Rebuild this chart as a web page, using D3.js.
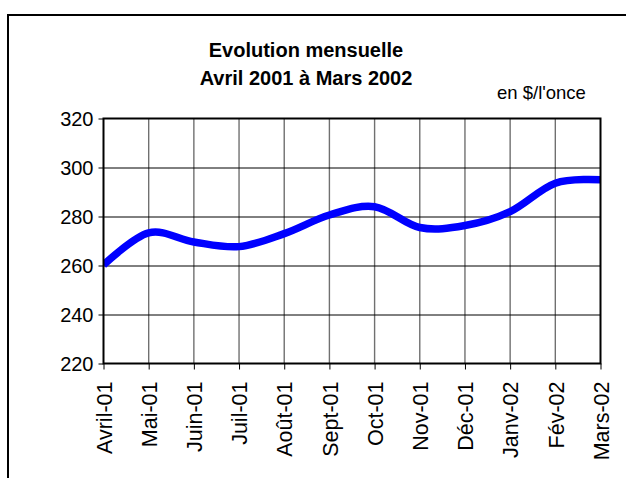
<!DOCTYPE html>
<html>
<head>
<meta charset="utf-8">
<script src="https://cdn.jsdelivr.net/npm/d3@7"></script>
<style>
  body { margin: 0; background: #fff; }
  text { font-family: "Liberation Sans", Arial, sans-serif; fill: #000; }
</style>
</head>
<body>
<script>
// Gold price chart - monthly evolution

// Data
var months = ["Avril-01", "Mai-01", "Juin-01", "Juil-01", "Août-01", "Sept-01",
  "Oct-01", "Nov-01", "Déc-01", "Janv-02", "Fév-02", "Mars-02"];
var prices = [260.2, 273.3, 269.6, 267.7, 273.0, 280.6, 284.0, 275.5, 276.3, 282.0, 293.6, 295.0];
var yTicks = [220, 240, 260, 280, 300, 320];

var titleLines = ["Evolution mensuelle", "Avril 2001 à Mars 2002"];
var unitLabel = "en $/l'once";

// SVG area
var svgWidth = 626;
var svgHeight = 478;

var margin = {
  top: 118.5,
  right: 25.5,
  bottom: 114.5,
  left: 103.5
};

var chartWidth = svgWidth - margin.left - margin.right;
var chartHeight = svgHeight - margin.top - margin.bottom;

var svg = d3.select("body")
  .append("svg")
  .attr("width", svgWidth)
  .attr("height", svgHeight);

// outer frame of the chart object (runs off the page right and bottom)
svg.append("rect")
  .attr("x", 8)
  .attr("y", 15)
  .attr("width", 700)
  .attr("height", 600)
  .attr("fill", "none")
  .attr("stroke", "#000")
  .attr("stroke-width", 2);

var chartGroup = svg.append("g")
  .attr("transform", `translate(${margin.left}, ${margin.top})`);

// scales
var xScale = d3.scalePoint()
  .domain(months)
  .range([0, chartWidth]);

var yScale = d3.scaleLinear()
  .domain([220, 320])
  .range([chartHeight, 0]);

// vertical gridlines (grey)
chartGroup.append("g")
  .selectAll("line")
  .data(months.slice(1, -1))
  .enter()
  .append("line")
  .attr("x1", d => xScale(d))
  .attr("x2", d => xScale(d))
  .attr("y1", 0)
  .attr("y2", chartHeight)
  .attr("stroke", "#707070")
  .attr("stroke-width", 1.4);

// horizontal gridlines (black)
chartGroup.append("g")
  .selectAll("line")
  .data(yTicks.slice(1, -1))
  .enter()
  .append("line")
  .attr("x1", 0)
  .attr("x2", chartWidth)
  .attr("y1", d => Math.round(yScale(d)) + 0.5)
  .attr("y2", d => Math.round(yScale(d)) + 0.5)
  .attr("stroke", "#000")
  .attr("stroke-width", 1);

// the smoothed price line
var drawLine = d3.line()
  .x((d, i) => xScale(months[i]))
  .y(d => yScale(d))
  .curve(d3.curveCatmullRom.alpha(0));

chartGroup.append("clipPath")
  .attr("id", "plotClip")
  .append("rect")
  .attr("width", chartWidth)
  .attr("height", chartHeight);

chartGroup.append("path")
  .attr("d", drawLine(prices))
  .attr("fill", "none")
  .attr("stroke", "#0000ff")
  .attr("stroke-width", 7.5)
  .attr("clip-path", "url(#plotClip)");

// plot border
chartGroup.append("rect")
  .attr("width", chartWidth)
  .attr("height", chartHeight)
  .attr("fill", "none")
  .attr("stroke", "#000")
  .attr("stroke-width", 2);

// axes
var leftAxis = d3.axisLeft(yScale)
  .tickValues(yTicks)
  .tickSize(5)
  .tickPadding(5);

var bottomAxis = d3.axisBottom(xScale)
  .tickSize(6)
  .tickPadding(4);

var yAxisG = chartGroup.append("g")
  .call(leftAxis);
yAxisG.select(".domain").remove();
yAxisG.selectAll("line").attr("stroke", "#000").attr("stroke-width", 1);
yAxisG.selectAll("text")
  .style("font-size", "20px")
  .attr("dy", "0.36em");

var xAxisG = chartGroup.append("g")
  .attr("transform", "translate(0, " + chartHeight + ")")
  .call(bottomAxis);
xAxisG.select(".domain").remove();
xAxisG.selectAll("line").attr("stroke", "#000").attr("stroke-width", 1);
xAxisG.selectAll("text")
  .style("font-size", "21.5px")
  .attr("text-anchor", "end")
  .attr("transform", "rotate(-90)")
  .attr("x", -18)
  .attr("y", 0)
  .attr("dy", "0.36em");

// titles
svg.selectAll(".title")
  .data(titleLines)
  .enter()
  .append("text")
  .attr("class", "title")
  .attr("x", 306)
  .attr("y", (d, i) => 57 + i * 28)
  .attr("text-anchor", "middle")
  .style("font-size", "20px")
  .style("font-weight", "bold")
  .text(d => d);

svg.append("text")
  .attr("x", 497)
  .attr("y", 99)
  .style("font-size", "18.5px")
  .text(unitLabel);
</script>
</body>
</html>
